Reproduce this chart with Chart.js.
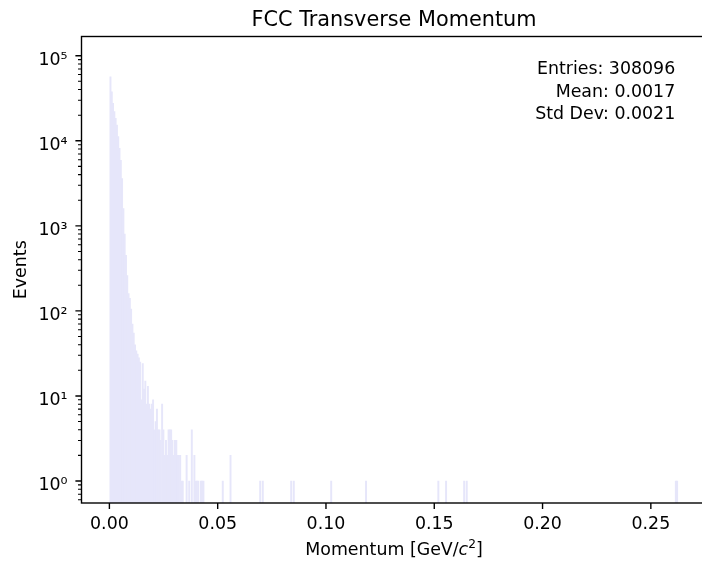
<!DOCTYPE html>
<html>
<head>
<meta charset="utf-8">
<script src="https://cdn.jsdelivr.net/npm/chart.js@4.4.1/dist/chart.umd.min.js"></script>
<style>
  html, body { margin: 0; padding: 0; background: #fff; overflow: hidden; }
  #wrap { width: 712px; height: 564px; }
</style>
</head>
<body>
<div id="wrap"><canvas id="chart" width="712" height="564"></canvas></div>
<script>
// ---- text ----
const TITLE = 'FCC Transverse Momentum';
const Y_LABEL = 'Events';
const STATS_LINES = ['Entries: 308096', 'Mean: 0.0017', 'Std Dev: 0.0021'];

// ---- histogram binning (GeV/c^2) ----
const BIN_START = 0.0002;
const BIN_WIDTH = 0.000596;

// events per bin, first bins from BIN_START onward
const CORE_COUNTS = [
  56600, 37700, 27600, 22000, 18400, 15300, 11200, 8150, 5900, 3600,
  1600, 800, 450, 260, 160, 140, 105, 70, 55, 40,
  34, 31, 28, 25, 9, 24, 12, 15, 8, 13,
  8, 7, 8, 9, 4, 5, 7, 4, 4, 3,
  8, 4, 2, 3, 2, 4, 4, 4, 3, 2,
  3, 3, 2, 2, 2, 1, 1, 0, 0, 2,
  0, 1, 0, 4, 0, 2, 1, 1, 1, 0,
  1, 1, 1
];

// isolated tail entries: momentum of the bin, events
const TAIL_MOMENTUM = [0.0521, 0.0558, 0.0699, 0.0711, 0.0839, 0.0849, 0.1026, 0.1188,
                       0.1520, 0.1556, 0.1636, 0.1650, 0.2617, 0.2623];
const TAIL_COUNTS   = [1, 2, 1, 1, 1, 1, 1, 1, 1, 1, 1, 1, 1, 1];

// ---- axes ----
const X_RANGE = [-0.01288, 0.2757];
const Y_RANGE = [0.551, 168300];
const X_TICKS = [0, 0.05, 0.10, 0.15, 0.20, 0.25];
const X_TICK_LABELS = ['0.00', '0.05', '0.10', '0.15', '0.20', '0.25'];
const Y_TICKS = [1, 10, 100, 1000, 10000, 100000];
const Y_TICK_LABELS = ['10⁰', '10¹', '10²', '10³', '10⁴', '10⁵'];

// ---- style ----
const FONT = "'DejaVu Sans', Verdana, sans-serif";
const FS = 17.4;
const BAR_COLOR = '#E6E6FA';

// build the bar list (bin centres) from the counts
const binCounts = new Map();
CORE_COUNTS.forEach((c, i) => { if (c > 0) binCounts.set(i, c); });
TAIL_MOMENTUM.forEach((m, k) => {
  const i = Math.floor((m - BIN_START) / BIN_WIDTH);
  binCounts.set(i, (binCounts.get(i) || 0) + TAIL_COUNTS[k]);
});
const points = [...binCounts.entries()]
  .sort((a, b) => a[0] - b[0])
  .map(([i, c]) => ({ x: BIN_START + (i + 0.5) * BIN_WIDTH, y: c }));

// frame, tick marks and free text
const framePlugin = {
  id: 'frame',
  afterDatasetsDraw(chart) {
    const { ctx, chartArea: a, scales } = chart;
    const xs = scales.x, ys = scales.y;
    ctx.save();
    ctx.strokeStyle = '#000';
    // spines
    ctx.lineWidth = 1.39;
    ctx.strokeRect(a.left, a.top, a.right - a.left, a.bottom - a.top);
    // x ticks
    ctx.beginPath();
    X_TICKS.forEach(v => {
      const p = xs.getPixelForValue(v);
      ctx.moveTo(p, a.bottom); ctx.lineTo(p, a.bottom + 6.1);
    });
    // y major ticks
    Y_TICKS.forEach(v => {
      const p = ys.getPixelForValue(v);
      ctx.moveTo(a.left, p); ctx.lineTo(a.left - 6.1, p);
    });
    ctx.stroke();
    // y minor ticks
    ctx.lineWidth = 1.04;
    ctx.beginPath();
    for (let d = 0.1; d <= 1e5; d *= 10) {
      for (let k = 2; k <= 9; k++) {
        const v = k * d;
        if (v < Y_RANGE[0] || v > Y_RANGE[1]) continue;
        const p = ys.getPixelForValue(v);
        ctx.moveTo(a.left, p); ctx.lineTo(a.left - 3.5, p);
      }
    }
    ctx.stroke();
    ctx.restore();
  },
  afterDraw(chart) {
    const { ctx, chartArea: a } = chart;
    const cx = (a.left + a.right) / 2;
    ctx.save();
    ctx.fillStyle = '#000';
    ctx.textBaseline = 'alphabetic';

    // title
    ctx.font = `20.8px ${FONT}`;
    ctx.textAlign = 'center';
    ctx.fillText(TITLE, cx, 26);

    // x axis label: Momentum [GeV/c^2] with italic c and superscript 2
    const parts = [
      { t: 'Momentum [GeV/', f: `${FS}px ${FONT}`, dy: 0 },
      { t: 'c', f: `oblique ${FS}px ${FONT}`, dy: 0 },
      { t: '2', f: `${(FS * 0.7).toFixed(1)}px ${FONT}`, dy: -7 },
      { t: ']', f: `${FS}px ${FONT}`, dy: 0 }
    ];
    ctx.textAlign = 'left';
    let total = 0;
    parts.forEach(p => { ctx.font = p.f; p.w = ctx.measureText(p.t).width; total += p.w; });
    let x = cx - total / 2;
    parts.forEach(p => { ctx.font = p.f; ctx.fillText(p.t, x, 555 + p.dy); x += p.w; });

    // y axis label
    ctx.font = `${FS}px ${FONT}`;
    ctx.save();
    ctx.translate(26, (a.top + a.bottom) / 2);
    ctx.rotate(-Math.PI / 2);
    ctx.textAlign = 'center';
    ctx.fillText(Y_LABEL, 0, 0);
    ctx.restore();

    // statistics box text
    ctx.textAlign = 'right';
    const sx = a.left + 0.95 * (a.right - a.left);
    STATS_LINES.forEach((s, i) => ctx.fillText(s, sx, 74 + i * 22.7));
    ctx.restore();
  }
};

Chart.defaults.font.family = FONT;

new Chart(document.getElementById('chart'), {
  type: 'bar',
  data: {
    datasets: [{
      data: points,
      backgroundColor: BAR_COLOR,
      borderWidth: 0,
      barPercentage: 1,
      categoryPercentage: 1
    }]
  },
  options: {
    responsive: false,
    animation: false,
    events: [],
    layout: { padding: { top: 36.5, right: 5.5, left: 0, bottom: 0 } },
    plugins: { legend: { display: false }, tooltip: { enabled: false }, title: { display: false } },
    scales: {
      x: {
        type: 'linear',
        min: X_RANGE[0],
        max: X_RANGE[1],
        offset: false,
        afterBuildTicks: s => { s.ticks = X_TICKS.map(v => ({ value: v })); },
        afterFit: s => { s.height = 61; },
        grid: { display: true, drawOnChartArea: false, drawTicks: true, tickLength: 6, tickColor: 'rgba(0,0,0,0)' },
        border: { display: false },
        ticks: {
          autoSkip: false, maxRotation: 0, minRotation: 0, padding: 4.6,
          color: '#000', font: { family: FONT, size: FS },
          callback: (v, i) => X_TICK_LABELS[i]
        }
      },
      y: {
        type: 'logarithmic',
        min: Y_RANGE[0],
        max: Y_RANGE[1],
        afterBuildTicks: s => { s.ticks = Y_TICKS.map(v => ({ value: v })); },
        afterFit: s => { s.width = 81.5; },
        grid: { display: true, drawOnChartArea: false, drawTicks: true, tickLength: 6, tickColor: 'rgba(0,0,0,0)' },
        border: { display: false },
        ticks: {
          autoSkip: false, padding: 8, labelOffset: 4.6,
          color: '#000', font: { family: FONT, size: FS },
          callback: (v, i) => Y_TICK_LABELS[i]
        }
      }
    }
  },
  plugins: [framePlugin]
});
</script>
</body>
</html>
